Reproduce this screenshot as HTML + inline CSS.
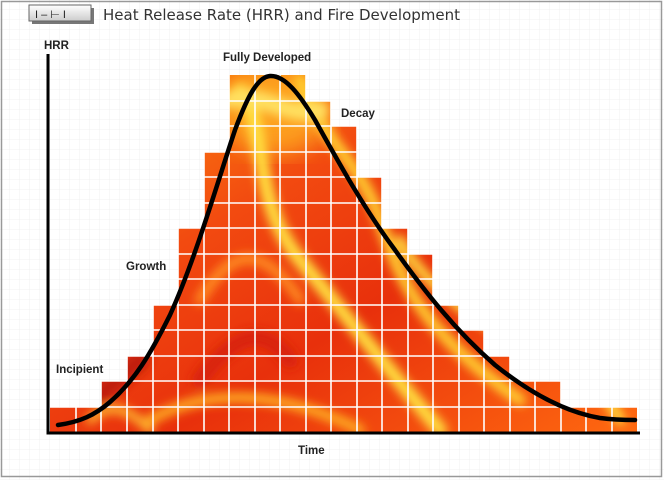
<!DOCTYPE html>
<html><head><style>
html,body{margin:0;padding:0;background:#fff;}
svg{display:block;}
text{font-family:"Liberation Sans",sans-serif;}
</style></head><body>
<svg width="664" height="480" viewBox="0 0 664 480">
<defs>
<pattern id="bg" width="10" height="10" patternUnits="userSpaceOnUse">
<path d="M10 0V10H0" fill="none" stroke="#f1f1f1" stroke-width="1"/>
</pattern>
<linearGradient id="fire" x1="0" y1="0" x2="1" y2="1">
<stop offset="0" stop-color="#ff9a10"/>
<stop offset="0.35" stop-color="#f24a10"/>
<stop offset="0.6" stop-color="#e8300c"/>
<stop offset="1" stop-color="#ff6a10"/>
</linearGradient>
<linearGradient id="ico" x1="0" y1="0" x2="0" y2="1">
<stop offset="0" stop-color="#fff"/><stop offset="1" stop-color="#ccc"/>
</linearGradient>
<filter id="blur"><feGaussianBlur stdDeviation="5"/></filter>
<filter id="blur2"><feGaussianBlur stdDeviation="12"/></filter>
<clipPath id="steps">
<path d="M50 432V407H101V381H127V356H153V305H178V228H204V152H229V75H306V101H331V126H357V177H382V228H408V254H433V305H459V330H484V356H510V381H561V407H637V432Z"/>
</clipPath>
</defs>
<rect x="0" y="0" width="664" height="480" fill="url(#bg)"/>
<rect x="1.5" y="1.5" width="660" height="475" fill="none" stroke="#999" stroke-width="1.5"/>
<rect x="32" y="8" width="62" height="16" fill="#777"/>
<rect x="29" y="5" width="62" height="16" fill="url(#ico)" stroke="#666"/>
<text x="35" y="18" font-size="11" fill="#222">I –      ⊢ I</text>
<text x="103" y="20" font-size="15" fill="#333" style="font-family:'DejaVu Sans',sans-serif">Heat Release Rate (HRR) and Fire Development</text>
<g clip-path="url(#steps)">
<rect x="50" y="70" width="590" height="365" fill="url(#fire)"/>
<ellipse cx="275" cy="110" rx="55" ry="45" fill="#ffb020" opacity="0.8" filter="url(#blur2)"/>
<g filter="url(#blur)" fill="none" stroke-linecap="round">
<path d="M240 90C270 130 250 200 300 260S380 360 440 430" stroke="#ffe040" stroke-width="14"/>
<path d="M300 80C320 140 360 160 380 220S420 330 520 400" stroke="#ffd030" stroke-width="12"/>
<path d="M230 100C260 90 290 120 320 110" stroke="#ffe060" stroke-width="18"/>
<path d="M150 420C220 380 300 400 360 430" stroke="#ffb020" stroke-width="10"/>
<path d="M400 240C420 280 470 320 520 340S600 380 620 420" stroke="#ffe040" stroke-width="10"/>
<path d="M200 300C230 250 260 240 300 300" stroke="#ff9020" stroke-width="10"/>
<path d="M90 420C110 400 130 410 150 430" stroke="#ffc030" stroke-width="8"/>
<path d="M100 395L140 360" stroke="#c01a08" stroke-width="20"/>
<path d="M200 380C230 340 260 320 290 360" stroke="#d8200a" stroke-width="16"/>
</g>
<g stroke="#fff" stroke-width="1.6">
<path d="M76 60V432M101 60V432M127 60V432M153 60V432M178 60V432M204 60V432M229 60V432M255 60V432M280 60V432M306 60V432M331 60V432M357 60V432M382 60V432M408 60V432M433 60V432M459 60V432M484 60V432M510 60V432M535 60V432M561 60V432M586 60V432M612 60V432"/>
<path d="M40 407H640M40 381H640M40 356H640M40 330H640M40 305H640M40 279H640M40 254H640M40 228H640M40 203H640M40 177H640M40 152H640M40 126H640M40 101H640"/>
</g>
</g>
<path d="M48 54V433H640" fill="none" stroke="#000" stroke-width="3"/>
<path d="M58 425C80 422 95 415 110 402C135 380 150 355 170 315C195 260 215 190 235 130C248 95 258 77 270 76C285 75 300 95 315 120C340 165 365 210 395 250C425 292 455 330 495 365C530 393 565 412 600 418C615 420 625 420 635 420" fill="none" stroke="#000" stroke-width="4.5" stroke-linecap="round"/>
<g font-size="11.5" font-weight="bold" fill="#222">
<text x="44" y="49">HRR</text>
<text x="223" y="61">Fully Developed</text>
<text x="341" y="117">Decay</text>
<text x="126" y="270">Growth</text>
<text x="56" y="373">Incipient</text>
<text x="298" y="454">Time</text>
</g>
</svg>
</body></html>
